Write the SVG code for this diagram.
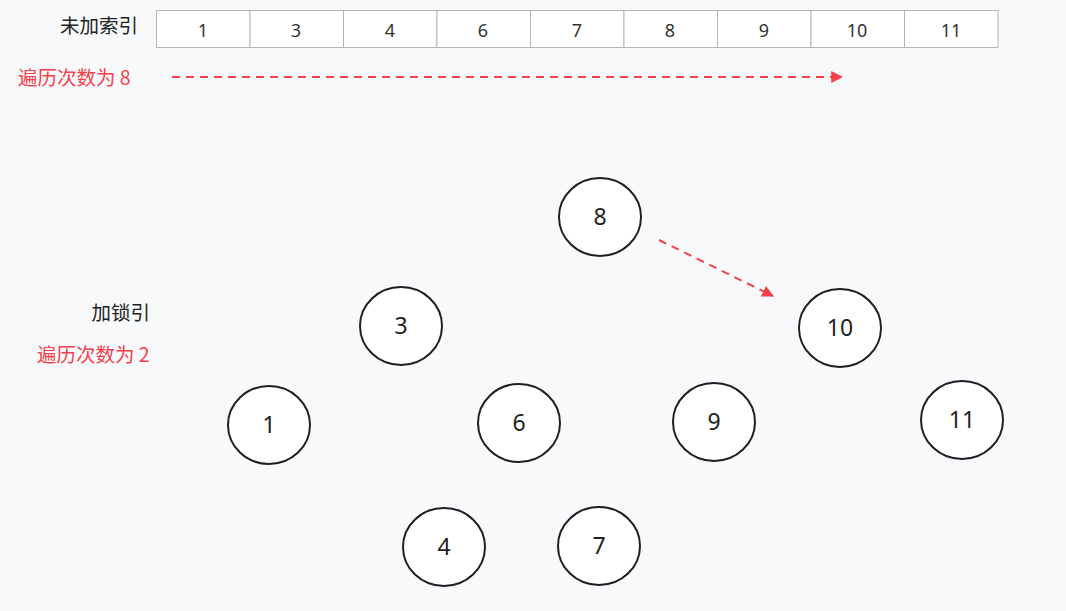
<svg xmlns="http://www.w3.org/2000/svg" width="1066" height="611" viewBox="0 0 1066 611">
<defs>
<style>
.lbl{font-family:"Noto Sans CJK SC","Noto Sans",sans-serif;font-size:19.5px;fill:#222}
.red{font-family:"Noto Sans CJK SC","Noto Sans",sans-serif;font-size:19.5px;fill:#f5404a}
.cell{fill:#fff;stroke:#b5b5b5;stroke-width:1}
.ct{font-family:"Noto Sans","Open Sans",sans-serif;font-size:18px;fill:#333;text-anchor:middle}
.node ellipse{fill:#fff;stroke:#1e1e24;stroke-width:2}
.node text{font-family:"Noto Sans","Open Sans",sans-serif;font-size:23px;fill:#222;text-anchor:middle}
.dash{stroke:#f5404a;stroke-width:2;stroke-dasharray:8,6;fill:none}
</style>
<marker id="ah" viewBox="0 0 10 10" refX="9" refY="5" markerWidth="6" markerHeight="6" orient="auto" markerUnits="strokeWidth"><path d="M0,0 L10,5 L0,10 z" fill="#f5404a"/></marker>
</defs>
<rect width="1066" height="611" fill="#f8f9fb"/>
<text class="lbl" x="138" y="33" text-anchor="end">未加索引</text>
<text class="red" x="18" y="85">遍历次数为 8</text>
<text class="lbl" x="150" y="320" text-anchor="end">加锁引</text>
<text class="red" x="37" y="362">遍历次数为 2</text>
<g id="table">
<rect class="cell" x="156.5" y="10.5" width="93.5" height="37"/>
<rect class="cell" x="250" y="10.5" width="93.5" height="37"/>
<rect class="cell" x="343.5" y="10.5" width="93.5" height="37"/>
<rect class="cell" x="437" y="10.5" width="93.5" height="37"/>
<rect class="cell" x="530.5" y="10.5" width="93.5" height="37"/>
<rect class="cell" x="624" y="10.5" width="93.5" height="37"/>
<rect class="cell" x="717.5" y="10.5" width="93.5" height="37"/>
<rect class="cell" x="811" y="10.5" width="93.5" height="37"/>
<rect class="cell" x="904.5" y="10.5" width="93.5" height="37"/>
<text class="ct" x="203" y="37">1</text>
<text class="ct" x="296" y="37">3</text>
<text class="ct" x="390" y="37">4</text>
<text class="ct" x="483" y="37">6</text>
<text class="ct" x="577" y="37">7</text>
<text class="ct" x="670" y="37">8</text>
<text class="ct" x="764" y="37">9</text>
<text class="ct" x="857" y="37">10</text>
<text class="ct" x="951" y="37">11</text>
</g>
<g id="connectors">
<line class="dash" x1="172" y1="77" x2="842" y2="77" marker-end="url(#ah)"/>
<line class="dash" x1="659" y1="240" x2="773" y2="296" marker-end="url(#ah)"/>
</g>
<g id="n8" class="node"><ellipse cx="600" cy="217" rx="41" ry="39"/><text x="600" y="225">8</text></g>
<g id="n3" class="node"><ellipse cx="401" cy="326" rx="41" ry="39"/><text x="401" y="334">3</text></g>
<g id="n10" class="node"><ellipse cx="840" cy="328" rx="41" ry="39"/><text x="840" y="336">10</text></g>
<g id="n1" class="node"><ellipse cx="269" cy="425" rx="41" ry="39"/><text x="269" y="433">1</text></g>
<g id="n6" class="node"><ellipse cx="519" cy="423" rx="41" ry="39"/><text x="519" y="431">6</text></g>
<g id="n9" class="node"><ellipse cx="714" cy="422" rx="41" ry="39"/><text x="714" y="430">9</text></g>
<g id="n11" class="node"><ellipse cx="962" cy="420" rx="41" ry="39"/><text x="962" y="428">11</text></g>
<g id="n4" class="node"><ellipse cx="444" cy="547" rx="41" ry="39"/><text x="444" y="555">4</text></g>
<g id="n7" class="node"><ellipse cx="599" cy="546" rx="41" ry="39"/><text x="599" y="554">7</text></g>
</svg>
